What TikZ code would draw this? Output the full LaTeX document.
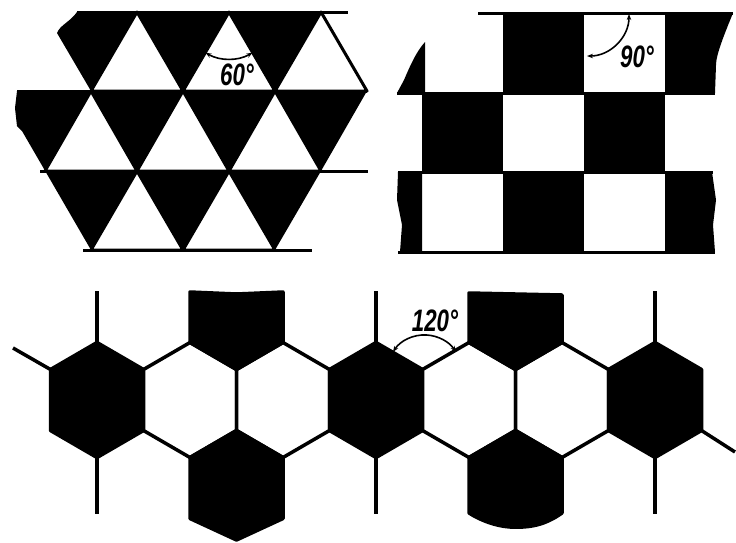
\documentclass[tikz,border=0pt]{standalone}
\usepackage{fontspec}
\setmainfont{Liberation Sans}
\usetikzlibrary{arrows.meta}

\begin{document}
\begin{tikzpicture}[x=1pt, y=-1pt,
  edge/.style={line width=3pt, line join=round},
  blk/.style={fill=black, draw=black, line width=3.5pt, line join=round},
  wht/.style={fill=white, draw=black, line width=3.5pt, line join=round},
  tri/.style={fill=white, draw=black, line width=3pt, line join=round},
  angarc/.style={line width=1.6pt, {Stealth[length=6pt,width=4.5pt]}-{Stealth[length=6pt,width=4.5pt]}},
  deg/.style={font=\fontsize{31}{32}\selectfont\bfseries\itshape, xscale=0.72, inner sep=0pt}
]
\useasboundingbox (0,0) rectangle (736,542);
\clip (0,0) rectangle (736,542);

% triangular tiling
\fill (77,12) -- (321,12) -- (367,91) -- (321,171) -- (275,250) -- (91,250)
  -- (22,131) -- (17,126) -- (15,108) -- (17,91) -- (91,91) -- (57,33)
  .. controls (60,25) and (70,22) .. (77,12) -- cycle;
\foreach \x in {137,229,321}
  \filldraw[tri] (\x,12) -- (\x+46,91) -- (\x-46,91) -- cycle;
\foreach \x in {91,183,275}
  \filldraw[tri] (\x,91) -- (\x+46,171) -- (\x-46,171) -- cycle;
\foreach \x in {137,229}
  \filldraw[tri] (\x,171) -- (\x+46,250) -- (\x-46,250) -- cycle;
\draw[edge] (77,12) -- (348,12);
\draw[edge] (17,91) -- (367,91);
\draw[edge] (40,171) -- (368,171);
\draw[edge] (83,250) -- (312,250);
\draw[angarc] (205.5,52.7) arc[start angle=240, end angle=300, radius=47pt];
\node[deg] (tria) at (237,75) {60°};

% square tiling
\fill (425,42) -- (425,93) -- (397,93) -- (404,80) .. controls (410,66) and (416,52) .. (425,42) -- cycle;
\fill (503,13) rectangle (584,93);
\fill (665,13) -- (733,13) .. controls (724,35) and (716,55) .. (716,65) -- (715,93) -- (665,93) -- cycle;
\fill (422,93) rectangle (503,172);
\fill (584,93) rectangle (665,172);
\fill (398,172) -- (422,172) -- (422,252) -- (400,252) -- (402,225) -- (397,200) -- cycle;
\fill (503,172) rectangle (584,252);
\fill (665,172) -- (712,172) -- (716,200) -- (713,225) -- (715,252) -- (665,252) -- cycle;
\draw[edge] (478,13) -- (733,13);
\draw[edge] (397,93) -- (715,93);
\draw[edge] (398,172) -- (713,172);
\draw[edge] (398,252) -- (715,252);
\draw[angarc] (629,14) arc[start angle=0, end angle=-90, radius=42pt];
\node[deg] (sqa) at (637,57) {90°};

% hexagonal tiling
\foreach \cx/\col in {97/blk, 190/wht, 283/wht, 376/blk, 469/wht, 562/wht, 655/blk}
  \filldraw[\col] (\cx,342.5) -- (\cx+46.5,369.5) -- (\cx+46.5,430.5) -- (\cx,457.5)
    -- (\cx-46.5,430.5) -- (\cx-46.5,369.5) -- cycle;
\filldraw[blk] (190,292) -- (236.5,294) -- (283,292) -- (283,342.5) -- (236.5,369.5)
  -- (190,342.5) -- cycle;
\filldraw[blk] (469,293) -- (562,295) -- (562,342.5) -- (515.5,369.5) -- (469,342.5) -- cycle;
\filldraw[blk] (236.5,430.5) -- (283,457.5) -- (283,518.5) -- (236.5,540) -- (190,518.5)
  -- (190,457.5) -- cycle;
\filldraw[blk] (515.5,430.5) -- (562,457.5) -- (562,513)
  .. controls (545,525) and (530,528) .. (510,527)
  .. controls (495,526) and (480,520) .. (469,513) -- (469,457.5) -- cycle;
\foreach \cx in {97,376,655} {
  \draw[edge, line width=3.5pt] (\cx,342.5) -- (\cx,291);
  \draw[edge, line width=3.5pt] (\cx,457.5) -- (\cx,514);
}
\draw[edge, line width=3.5pt] (50.5,369.5) -- (13,348);
\draw[edge, line width=3.5pt] (701.5,430.5) -- (735,452);
\draw[angarc] (393,352) arc[start angle=147, end angle=33, radius=37.5pt];
\node[deg] (hexa) at (435,321) {120°};
\end{tikzpicture}
\end{document}
